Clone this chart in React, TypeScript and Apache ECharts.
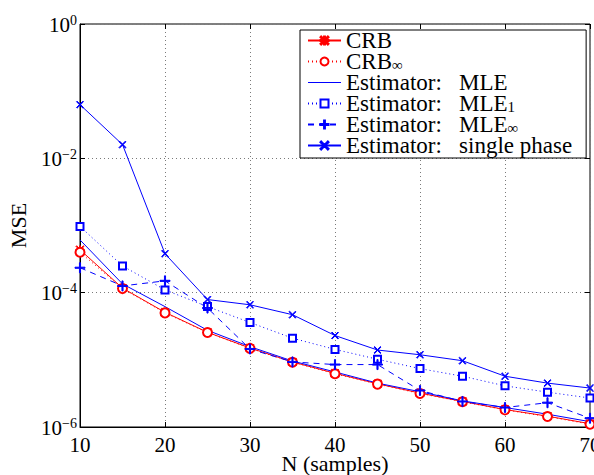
import React, { useEffect, useRef } from "react";
import * as echarts from "echarts";

const samples = [10, 15, 20, 25, 30, 35, 40, 45, 50, 55, 60, 65, 70];
const crb = [4.35e-4, 1.17e-4, 5.1e-5, 2.57e-5, 1.5e-5, 9.3e-6, 6.3e-6, 4.4e-6, 3.2e-6, 2.4e-6, 1.82e-6, 1.45e-6, 1.12e-6];
const crbInf = [4.0e-4, 1.15e-4, 5.0e-5, 2.55e-5, 1.48e-5, 9.2e-6, 6.2e-6, 4.35e-6, 3.15e-6, 2.38e-6, 1.8e-6, 1.43e-6, 1.1e-6];
const mle = [6.1e-4, 1.35e-4, 6.2e-5, 2.75e-5, 1.57e-5, 9.6e-6, 6.6e-6, 4.5e-6, 3.35e-6, 2.45e-6, 1.95e-6, 1.55e-6, 1.2e-6];
const mle1 = [9.7e-4, 2.5e-4, 1.1e-4, 6.2e-5, 3.6e-5, 2.1e-5, 1.43e-5, 1.02e-5, 7.4e-6, 5.7e-6, 4.1e-6, 3.3e-6, 2.7e-6];
const mleInf = [2.35e-4, 1.26e-4, 1.5e-4, 5.9e-5, 1.45e-5, 9.3e-6, 8.5e-6, 8.5e-6, 3.5e-6, 2.4e-6, 1.95e-6, 2.3e-6, 1.35e-6];
const singlePhase = [6.3e-2, 1.6e-2, 3.8e-4, 7.9e-5, 6.6e-5, 4.7e-5, 2.3e-5, 1.4e-5, 1.19e-5, 9.7e-6, 5.7e-6, 4.5e-6, 3.8e-6];

const seriesNames = [
  "CRB",
  "CRB∞",
  "Estimator: MLE",
  "Estimator: MLE1",
  "Estimator: MLE∞",
  "Estimator: single phase",
];
const legendLabels: Record<string, string> = {
  "CRB": "{t|CRB}",
  "CRB∞": "{t|CRB}{sub|∞}",
  "Estimator: MLE": "{t|Estimator:   MLE}",
  "Estimator: MLE1": "{t|Estimator:   MLE}{sub|1}",
  "Estimator: MLE∞": "{t|Estimator:   MLE}{sub|∞}",
  "Estimator: single phase": "{t|Estimator:   single phase}",
};

const FONT = "'Liberation Serif', 'Times New Roman', serif";
const RED = "#ff0000";
const BLUE = "#0000ff";

const STAR = "path://M4.4,0H5.6V10H4.4Z M0,4.4H10V5.6H0Z M0.8,0L10,9.2L9.2,10L0,0.8Z M9.2,0L10,0.8L0.8,10L0,9.2Z";
const PLUS = "path://M4.45,0H5.55V4.45H10V5.55H5.55V10H4.45V5.55H0V4.45H4.45Z";
const CROSS = "path://M0,0.8L0.8,0L5,4.2L9.2,0L10,0.8L5.8,5L10,9.2L9.2,10L5,5.8L0.8,10L0,9.2L4.2,5Z";
const LINE_ICON = "path://M0,0H0.01V0.01H0Z M0,4.5H33V5.5H0Z M0,9.99H0.01V10H0Z";

function pairs(ys: number[]) {
  return samples.map((x, i) => [x, ys[i]]);
}

export default function App() {
  const ref = useRef<HTMLDivElement>(null);
  useEffect(() => {
    if (!ref.current) return;
    const chart = echarts.init(ref.current, undefined, { renderer: "svg" });
    const mk = (
      name: string,
      ys: number[],
      color: string,
      lineType: any,
      symbol: string,
      symbolSize: number
    ) => ({
      name,
      type: "line",
      data: pairs(ys),
      symbol,
      symbolSize,
      showSymbol: symbol !== "none",
      lineStyle: { color, width: 1, type: lineType },
      itemStyle: { color, borderColor: color, borderWidth: 1 },
      emphasis: { disabled: true },
      z: 3,
    });
    chart.setOption({
      animation: false,
      backgroundColor: "#ffffff",
      grid: {
        left: 80,
        top: 24,
        right: 4,
        bottom: 48,
        outerBoundsMode: "none",
        containLabel: false,
        show: true,
        borderColor: "#000",
        borderWidth: 1,
        backgroundColor: "transparent",
      },
      legend: {
        orient: "vertical",
        left: 300,
        top: 30,
        padding: [-1, 14, 1, 7],
        itemGap: -2,
        itemWidth: 33,
        itemHeight: 10,
        backgroundColor: "#ffffff",
        borderColor: "#000",
        borderWidth: 1,
        selectedMode: false,
        data: seriesNames.map((n) =>
          n === "Estimator: MLE"
            ? { name: n, icon: LINE_ICON, itemStyle: { color: BLUE, borderColor: BLUE, borderWidth: 0 } }
            : { name: n }
        ),
        formatter: (name: string) => legendLabels[name],
        textStyle: {
          color: "#000",
          fontFamily: FONT,
          fontSize: 23,
          lineHeight: 21,
          rich: {
            t: { fontFamily: FONT, fontSize: 23, lineHeight: 21, color: "#000" },
            sub: {
              fontFamily: FONT,
              fontSize: 15,
              lineHeight: 6,
              color: "#000",
              verticalAlign: "bottom",
            },
          },
        },
      },
      xAxis: [
        {
          type: "value",
          min: 10,
          max: 70,
          interval: 10,
          name: "N (samples)",
          nameLocation: "middle",
          nameGap: 25,
          nameMoveOverlap: false,
          nameTextStyle: { fontFamily: FONT, fontSize: 22, color: "#000" },
          axisLine: { show: true, lineStyle: { color: "#000", width: 1 } },
          axisTick: { inside: true, length: 5, lineStyle: { color: "#000" } },
          axisLabel: { fontFamily: FONT, fontSize: 21, color: "#000", margin: 7 },
          splitLine: {
            show: true,
            lineStyle: { color: "#7a7a7a", type: [1, 3], width: 1 },
          },
        },
        {
          type: "value",
          position: "top",
          min: 10,
          max: 70,
          interval: 10,
          axisLine: { show: false },
          axisTick: { inside: true, length: 5, lineStyle: { color: "#000" } },
          axisLabel: { show: false },
          splitLine: { show: false },
        },
      ],
      yAxis: [
        {
          type: "log",
          logBase: 100,
          min: 1e-6,
          max: 1,
          name: "MSE",
          nameLocation: "middle",
          nameGap: 51,
          nameMoveOverlap: false,
          nameTextStyle: { fontFamily: FONT, fontSize: 22, color: "#000" },
          axisLine: { show: true, lineStyle: { color: "#000", width: 1 } },
          axisTick: { inside: true, length: 5, lineStyle: { color: "#000" } },
          axisLabel: {
            margin: 3,
            formatter: (v: number) => {
              const e = Math.round(Math.log10(v));
              const s = e < 0 ? "−" + Math.abs(e) : String(e);
              return "{b|10}{s|" + s + "}";
            },
            rich: {
              b: { fontFamily: FONT, fontSize: 21, color: "#000", lineHeight: 22, verticalAlign: "bottom" },
              s: { fontFamily: FONT, fontSize: 14, color: "#000", lineHeight: 14, verticalAlign: "top" },
            },
          },
          splitLine: {
            show: true,
            lineStyle: { color: "#7a7a7a", type: [1, 3], width: 1 },
          },
        },
        {
          type: "log",
          logBase: 100,
          min: 1e-6,
          max: 1,
          position: "right",
          axisLine: { show: false },
          axisTick: { inside: true, length: 5, lineStyle: { color: "#000" } },
          axisLabel: { show: false },
          splitLine: { show: false },
        },
      ],
      series: [
        mk(seriesNames[0], crb, RED, "solid", STAR, 8),
        mk(seriesNames[1], crbInf, RED, [1, 3], "emptyCircle", 9),
        mk(seriesNames[2], mle, BLUE, "solid", "none", 0),
        mk(seriesNames[3], mle1, BLUE, [1, 3], "emptyRect", 7),
        mk(seriesNames[4], mleInf, BLUE, [6, 5], PLUS, 10),
        mk(seriesNames[5], singlePhase, BLUE, "solid", CROSS, 7),
      ],
    });
    return () => chart.dispose();
  }, []);
  return (
    <div
      ref={ref}
      style={{ position: "absolute", left: 0, top: 0, width: 594, height: 475 }}
    />
  );
}
